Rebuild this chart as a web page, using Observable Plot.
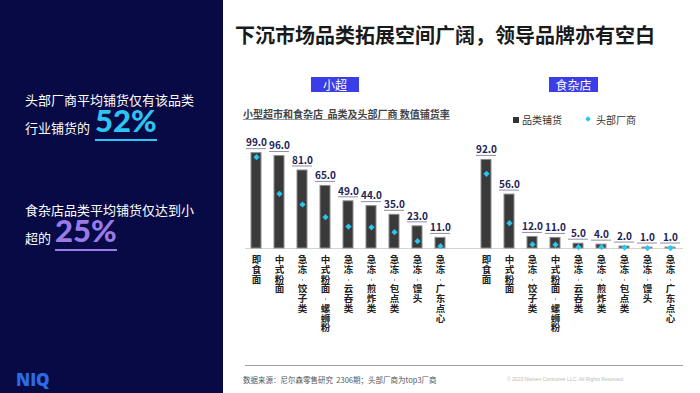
<!DOCTYPE html>
<html><head><meta charset="utf-8">
<script src="https://cdn.jsdelivr.net/npm/d3@7"></script>
<script src="https://cdn.jsdelivr.net/npm/@observablehq/plot@0.6"></script>
<style>
html,body{margin:0;padding:0;width:700px;height:393px;overflow:hidden;background:#fff;font-family:"Noto Sans CJK SC","Noto Sans",sans-serif;}
.abs{position:absolute;white-space:nowrap;line-height:1;}
#left{position:absolute;left:0;top:0;width:223px;height:393px;background:#070a44;}
.lt{color:#fff;font-size:13px;}
.big{font-family:Lato,"Noto Sans",sans-serif;font-weight:900;font-size:31px;padding-bottom:3px;border-bottom:2px solid;}
.box{background:#3b3de6;color:#fff;font-size:12px;text-align:center;height:15px;line-height:15px;top:77px;}
#chart{position:absolute;left:230px;top:130px;}
</style></head>
<body>
<div id="left">
  <div class="abs lt" style="left:25px;top:93px;">头部厂商平均铺货仅有该品类</div>
  <div class="abs lt" style="left:25px;top:121px;">行业铺货的</div>
  <div class="abs big" style="left:95px;top:105px;color:#2ec4f1;border-color:#2ec4f1;">52%</div>
  <div class="abs lt" style="left:25px;top:203px;">食杂店品类平均铺货仅达到小</div>
  <div class="abs lt" style="left:25px;top:231px;">超的</div>
  <div class="abs big" style="left:55px;top:215px;color:#9a7ae6;border-color:#9a7ae6;">25%</div>
  <div class="abs" style="left:16px;top:371px;color:#2a6de6;font-family:'Open Sans',sans-serif;font-weight:800;font-size:17px;">NIQ</div>
</div>
<div class="abs" style="left:235px;top:25px;font-size:20px;font-weight:bold;color:#1a1a1a;">下沉市场品类拓展空间广阔，领导品牌亦有空白</div>
<div class="abs box" style="left:311px;width:48px;">小超</div>
<div class="abs box" style="left:549px;width:49px;">食杂店</div>
<div class="abs" style="left:243px;top:109px;font-size:10px;font-weight:bold;color:#444;text-decoration:underline;text-decoration-color:#999;">小型超市和食杂店&nbsp;&nbsp;品类及头部厂商 数值铺货率</div>
<div class="abs" style="left:513px;top:117px;width:6px;height:6px;background:#333;"></div>
<div class="abs" style="left:522px;top:115px;font-size:10px;color:#333;">品类铺货</div>
<div class="abs" style="left:586px;top:117px;width:4px;height:4px;background:#29c6f2;transform:rotate(45deg);"></div>
<div class="abs" style="left:596px;top:115px;font-size:10px;color:#333;">头部厂商</div>
<div id="chart"></div>
<div class="abs" style="left:245px;top:365px;width:438px;height:1px;background:#a0a0a0;"></div>
<div class="abs" style="left:243px;top:376px;font-size:7.5px;color:#555;">数据来源：尼尔森零售研究&nbsp;&nbsp;2306期；头部厂商为top3厂商</div>
<div class="abs" style="left:507px;top:377px;font-size:5px;color:#bbb;font-family:Arial,'Liberation Sans',sans-serif;">© 2023 Nielsen Consumer LLC. All Rights Reserved.</div>
<script>
const channels = ["小超", "食杂店"];
const categories = ["即食面","中式粉面","急冻-饺子类","中式粉面-螺蛳粉","急冻-云吞类","急冻-煎炸类","急冻-包点类","急冻-馒头","急冻-广东点心"];
const miniCategory = [99, 96, 81, 65, 49, 44, 35, 23, 11];
const miniTop = [94.8, 56.8, 45.7, 32.5, 22.8, 22, 17, 7.6, 2.4];
const groceryCategory = [92, 56, 12, 11, 5, 4, 2, 1, 1];
const groceryTop = [77.6, 26.3, 4.2, 4, 1.5, 1.5, 1, 0.5, 0.5];

const vertical = s => Array.from(s.replace(/-/g, "︲")).join("\n");
const rows = [];
categories.forEach((c, i) => rows.push({key: channels[0] + "|" + c, cat: c, category: miniCategory[i], top: miniTop[i]}));
categories.forEach((c, i) => rows.push({key: channels[1] + "|" + c, cat: c, category: groceryCategory[i], top: groceryTop[i]}));
const domain = [...categories.map(c => channels[0] + "|" + c), "gap", ...categories.map(c => channels[1] + "|" + c)];

const chart = Plot.plot({
  width: 470, height: 235,
  marginLeft: 4.5, marginRight: 7.5, marginTop: 21.7, marginBottom: 117,
  x: {domain, padding: 0.55, axis: null},
  y: {domain: [0, 100], axis: null},
  style: {fontFamily: '"Noto Sans CJK SC", sans-serif', background: "transparent", overflow: "visible"},
  marks: [
    Plot.ruleY([0], {stroke: "#d4d4d4", insetLeft: 10.5, insetRight: 9.5}),
    Plot.barY(rows, {x: "key", y: "category", fill: "#3a3a3a", stroke: "#8c8c8c", strokeWidth: 1}),
    Plot.dot(rows, {x: "key", y: "top", symbol: "diamond2", r: 2.8, fill: "#29c6f2"}),
    Plot.tickY(rows, {x: "key", y: "category", dy: -4.5, insetLeft: -5, insetRight: -5, stroke: "#8e8ea8"}),
    Plot.text(rows, {x: "key", y: "category", text: d => d.category.toFixed(1), dy: -10, fill: "#1d2356", fontWeight: "bold", fontSize: 10}),
    Plot.text(rows, {x: "key", text: d => vertical(d.cat), frameAnchor: "bottom", textAnchor: "middle", lineAnchor: "top", lineHeight: 1.02, dy: 8, fill: "#222", fontWeight: "bold", fontSize: 9.5})
  ]
});
document.getElementById("chart").appendChild(chart);
</script>
</body></html>
